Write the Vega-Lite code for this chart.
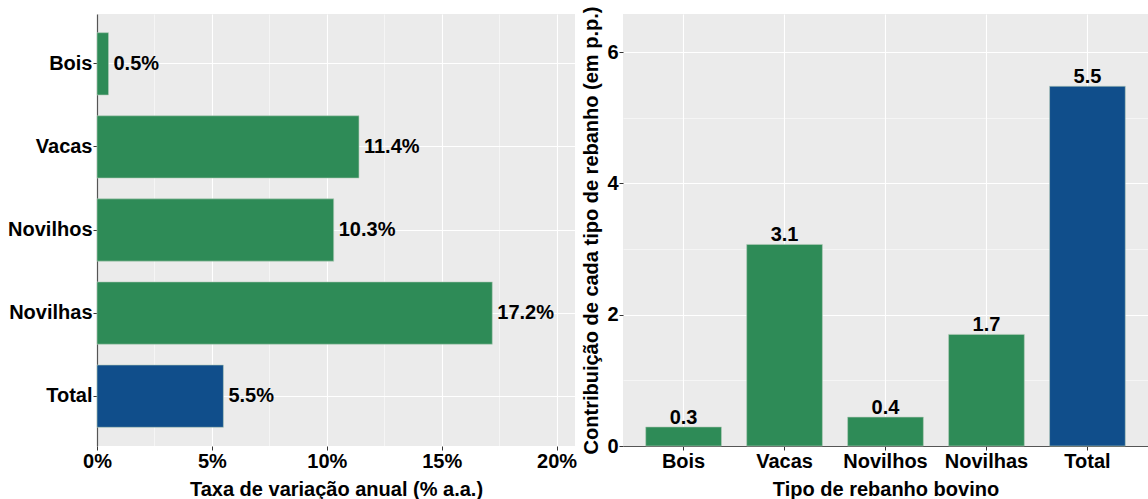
{
  "$schema": "https://vega.github.io/schema/vega-lite/v6.json",
  "background": "white",
  "padding": {"left": 7, "top": 6, "right": 0, "bottom": 0},
  "spacing": 4,
  "config": {
    "font": "Liberation Sans",
    "view": {"fill": "#EBEBEB", "stroke": null},
    "axis": {
      "labelFont": "Liberation Sans",
      "labelFontWeight": "bold",
      "labelFontSize": 20,
      "labelColor": "#000000",
      "titleFont": "Liberation Sans",
      "titleFontWeight": "bold",
      "titleFontSize": 20,
      "titleColor": "#000000",
      "gridColor": "#FFFFFF",
      "tickColor": "#333333",
      "tickSize": 4,
      "labelPadding": 1,
      "labelFlush": false,
      "domainColor": "#555555",
      "domainWidth": 1.2
    },
    "text": {"font": "Liberation Sans", "fontWeight": "bold", "fontSize": 20, "color": "#000000"}
  },
  "hconcat": [
    {
      "width": 478,
      "height": 432,
      "data": {"values": [
        {"tipo": "Bois", "taxa": 0.005},
        {"tipo": "Vacas", "taxa": 0.114},
        {"tipo": "Novilhos", "taxa": 0.103},
        {"tipo": "Novilhas", "taxa": 0.172},
        {"tipo": "Total", "taxa": 0.055}
      ]},
      "encoding": {
        "y": {"field": "tipo", "type": "nominal", "sort": ["Bois", "Vacas", "Novilhos", "Novilhas", "Total"],
          "scale": {"paddingInner": 0.25, "paddingOuter": 0.225},
          "axis": {"title": null, "grid": true, "gridWidth": 1.1, "domain": true}},
        "x": {"field": "taxa", "type": "quantitative",
          "scale": {"domain": [0, 0.208], "nice": false},
          "axis": {
            "title": "Taxa de variação anual (% a.a.)",
            "titlePadding": 8,
            "domain": false,
            "format": ".0%",
            "values": [0, 0.025, 0.05, 0.075, 0.1, 0.125, 0.15, 0.175, 0.2],
            "labelExpr": "round(datum.value*1000) % 50 === 0 ? datum.label : ''",
            "gridWidth": {"condition": {"test": "round(datum.value*1000) % 50 === 0", "value": 1.1}, "value": 0.5},
            "tickOpacity": {"condition": {"test": "round(datum.value*1000) % 50 === 0", "value": 1}, "value": 0}
          }}
      },
      "layer": [
        {
          "mark": {"type": "bar", "stroke": "#B5CDBB", "strokeWidth": 0.6},
          "encoding": {
            "color": {"condition": {"test": "datum.tipo === 'Total'", "value": "#104E8B"}, "value": "#2E8B57"}
          }
        },
        {
          "mark": {"type": "text", "align": "left", "baseline": "middle", "dx": 5},
          "encoding": {"text": {"field": "taxa", "type": "quantitative", "format": ".1%"}}
        }
      ]
    },
    {
      "width": 525,
      "height": 432,
      "data": {"values": [
        {"tipo": "Bois", "contrib": 0.29},
        {"tipo": "Vacas", "contrib": 3.07},
        {"tipo": "Novilhos", "contrib": 0.44},
        {"tipo": "Novilhas", "contrib": 1.70},
        {"tipo": "Total", "contrib": 5.48}
      ]},
      "encoding": {
        "x": {"field": "tipo", "type": "nominal", "sort": ["Bois", "Vacas", "Novilhos", "Novilhas", "Total"],
          "scale": {"paddingInner": 0.25, "paddingOuter": 0.225},
          "axis": {"title": "Tipo de rebanho bovino", "titlePadding": 8, "grid": true, "gridWidth": 1.1, "domain": true, "labelAngle": 0}},
        "y": {"field": "contrib", "type": "quantitative",
          "scale": {"domain": [0, 6.58], "nice": false},
          "axis": {
            "title": "Contribuição de cada tipo de rebanho (em p.p.)",
            "titlePadding": 5,
            "domain": false,
            "values": [0, 1, 2, 3, 4, 5, 6],
            "labelExpr": "datum.value % 2 === 0 ? datum.label : ''",
            "gridWidth": {"condition": {"test": "datum.value % 2 === 0", "value": 1.1}, "value": 0.5},
            "tickOpacity": {"condition": {"test": "datum.value % 2 === 0", "value": 1}, "value": 0}
          }}
      },
      "layer": [
        {
          "mark": {"type": "bar", "stroke": "#B5CDBB", "strokeWidth": 0.6},
          "encoding": {
            "color": {"condition": {"test": "datum.tipo === 'Total'", "value": "#104E8B"}, "value": "#2E8B57"}
          }
        },
        {
          "mark": {"type": "text", "align": "center", "baseline": "bottom", "dy": 1},
          "encoding": {"text": {"field": "contrib", "type": "quantitative", "format": ".1f"}}
        }
      ]
    }
  ]
}
